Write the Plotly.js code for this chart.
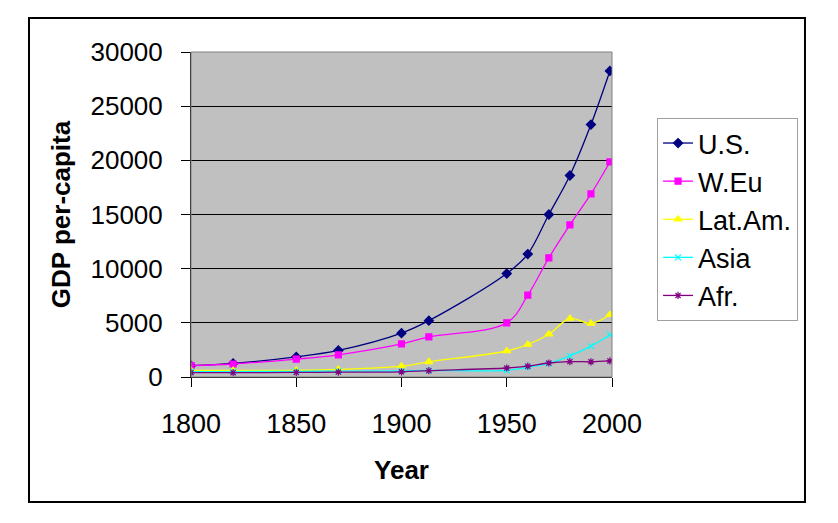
<!DOCTYPE html>
<html>
<head>
<meta charset="utf-8">
<script src="https://cdn.plot.ly/plotly-3.0.1.min.js"></script>
<style>
  html, body { margin: 0; padding: 0; background: #fff; }
  #chart { width: 838px; height: 523px; }
</style>
</head>
<body>
<div id="chart"></div>
<script>
// Values (GDP per capita, by region)
const years = [1800, 1820, 1850, 1870, 1900, 1913, 1950, 1960, 1970, 1980, 1990, 1999];
const usGdp = [1050, 1250, 1850, 2450, 4050, 5200, 9550, 11350, 15000, 18600, 23300, 28250];
const weuGdp = [1050, 1200, 1650, 2050, 3050, 3700, 5000, 7550, 11000, 14050, 16900, 19850];
const latamGdp = [600, 600, 620, 700, 1000, 1400, 2400, 3000, 3950, 5400, 4950, 5750];
const asiaGdp = [500, 500, 520, 540, 560, 600, 620, 900, 1250, 1950, 2850, 3900];
const afrGdp = [400, 400, 420, 450, 480, 580, 830, 1000, 1290, 1420, 1400, 1480];

const seriesNames = ["U.S.", "W.Eu", "Lat.Am.", "Asia", "Afr."];
const yTicks = [0, 5000, 10000, 15000, 20000, 25000, 30000];
const xTicks = [1800, 1850, 1900, 1950, 2000];

const font = "Arial, 'Liberation Sans', sans-serif";

// Excel-style smoothed line with markers
function makeTrace(name, values, color, symbol, size) {
  return {
    x: years, y: values, name: name,
    type: "scatter", mode: "lines+markers",
    line: { color: color, width: 1.3, shape: "spline", smoothing: 1 },
    marker: { color: color, symbol: symbol, size: size, line: { color: color, width: 1.2 } }
  };
}

const traces = [
  makeTrace(seriesNames[0], usGdp, "#000080", "diamond", 7),
  makeTrace(seriesNames[1], weuGdp, "#ff00ff", "square", 6),
  makeTrace(seriesNames[2], latamGdp, "#ffff00", "triangle-up", 7),
  makeTrace(seriesNames[3], asiaGdp, "#00ffff", "x-thin-open", 6),
  makeTrace(seriesNames[4], afrGdp, "#800080", "asterisk-open", 6)
];

const layout = {
  width: 838, height: 523,
  margin: { l: 191, r: 226, t: 52, b: 146 },
  paper_bgcolor: "#ffffff",
  plot_bgcolor: "#c0c0c0",
  font: { family: font, color: "#000" },
  showlegend: true,
  legend: {
    x: 1.107, y: 0.797, xanchor: "left", yanchor: "top",
    bgcolor: "#ffffff", bordercolor: "#a0a0a0", borderwidth: 1,
    font: { size: 27, family: font, color: "#000" },
    tracegroupgap: 0
  },
  xaxis: {
    range: [1800, 2000],
    tickvals: xTicks, ticktext: xTicks.map(String),
    ticks: "outside", ticklen: 9, tickcolor: "#000", tickwidth: 1,
    ticklabelstandoff: 14,
    showline: true, linecolor: "#000", linewidth: 1,
    showgrid: false, zeroline: false,
    tickfont: { size: 27 },
    title: { text: "<b>Year</b>", font: { size: 26 }, standoff: 22 }
  },
  yaxis: {
    range: [0, 30000],
    tickvals: yTicks, ticktext: yTicks.map(String),
    ticks: "outside", ticklen: 9, tickcolor: "#000", tickwidth: 1,
    ticklabelstandoff: 13,
    showline: true, linecolor: "#000", linewidth: 1,
    showgrid: true, gridcolor: "#000", gridwidth: 1,
    zeroline: false,
    tickfont: { size: 26 },
    title: { text: "<b>GDP per-capita</b>", font: { size: 26 }, standoff: 12 }
  },
  shapes: [
    // grey frame round the plot area
    { type: "rect", xref: "paper", yref: "paper", x0: 0, x1: 1, y0: 0, y1: 1,
      line: { color: "#808080", width: 1 }, layer: "above" },
    // outer chart border
    { type: "rect", xref: "paper", yref: "paper",
      x0: -0.3848, x1: 1.4584, y0: -0.3846, y1: 1.1046,
      line: { color: "#000", width: 2 } }
  ]
};

Plotly.newPlot("chart", traces, layout, { displayModeBar: false, staticPlot: true });
</script>
</body>
</html>
